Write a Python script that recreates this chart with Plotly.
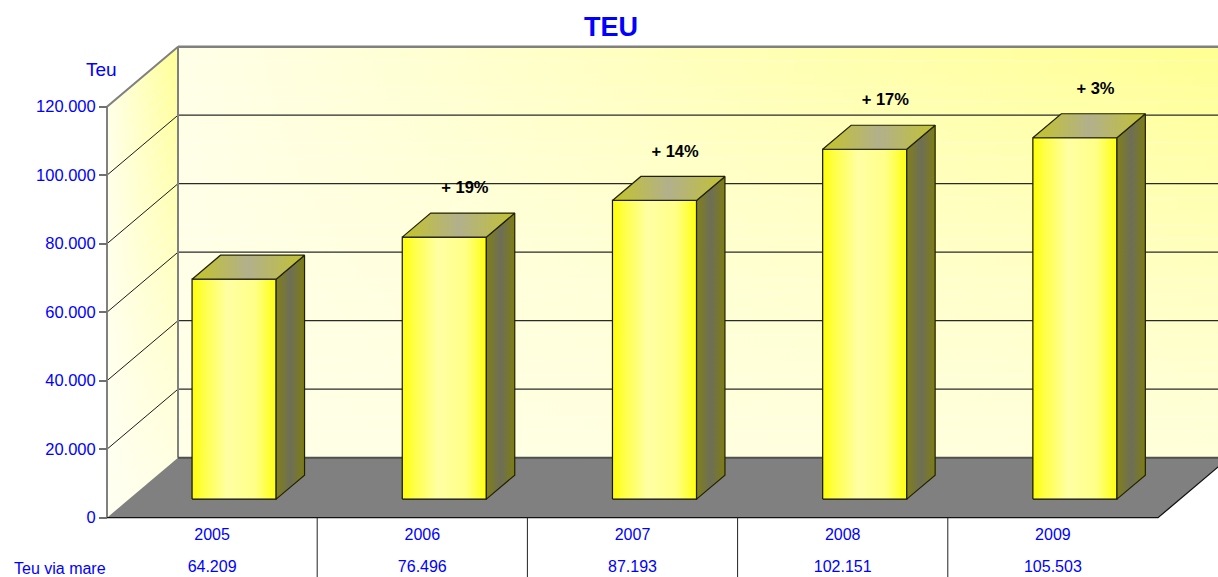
import plotly.graph_objects as go

# ---------------- data ----------------
years = ["2005", "2006", "2007", "2008", "2009"]
teu = [64209, 76496, 87193, 102151, 105503]
value_labels = ["64.209", "76.496", "87.193", "102.151", "105.503"]
growth_labels = ["", "+ 19%", "+ 14%", "+ 17%", "+ 3%"]
y_tickvals = [0, 20000, 40000, 60000, 80000, 100000, 120000]
y_ticktext = ["0", "20.000", "40.000", "60.000", "80.000", "100.000", "120.000"]
row_label = "Teu via mare"
y_title = "Teu"
chart_title = "TEU"

# ---------------- geometry (projection of the pseudo-3D chart) ----------------
W, H = 1218, 577
X0_PX = 107.0          # pixel of the front-left corner
CAT_PX = 210.2         # pixels per category
Y0_PX = 517.7          # pixel of value 0 on the front plane
UNIT_PX = 68.5 / 20000 # pixels per unit value
DXu = 71.0 / CAT_PX    # depth offset in x (category units)
DYu = 60.0 / UNIT_PX   # depth offset in y (value units)
D0, D1 = 0.31, 0.71    # bar depth span (fraction of floor depth)
BAR_W = 0.4
NCAT = len(years)
YMAX = y_tickvals[-1]

FONT = "Liberation Sans, Arial, sans-serif"
BLUE = "#0000FF"

traces = []


def poly(xs, ys, color=None, grad=None, line_color="rgba(0,0,0,0)", lw=0):
    t = dict(x=list(xs) + [xs[0]], y=list(ys) + [ys[0]], mode="lines", fill="toself",
             line=dict(color=line_color, width=lw), hoverinfo="skip", showlegend=False)
    if grad is not None:
        t["fillgradient"] = grad
    else:
        t["fillcolor"] = color
    return go.Scatter(**t)


def seg(xs, ys, color, lw):
    return go.Scatter(x=xs, y=ys, mode="lines", line=dict(color=color, width=lw),
                      hoverinfo="skip", showlegend=False, cliponaxis=False)


def hexc(b):
    b = max(0, min(255, int(round(b))))
    return "#FFFF%02X" % b


# ---------------- back wall (banded 2D gradient) ----------------
NB = 30
xl, xr = DXu, NCAT + DXu + 0.3
for k in range(NB):
    a = YMAX * k / NB
    b = YMAX * (k + 1) / NB
    v = (k + 0.5) / NB
    cl = hexc(232)
    cr = hexc(232 - 16 - 76 * v ** 1.3)
    traces.append(poly([xl, xr, xr, xl], [a + DYu, a + DYu, b + DYu, b + DYu],
                       grad=dict(type="horizontal",
                                 colorscale=[[0, cl], [0.5, hexc(232 - 8 - 42 * v ** 1.3)], [1, cr]])))

# ---------------- left wall ----------------
for k in range(NB):
    a = YMAX * k / NB
    b = YMAX * (k + 1) / NB
    v = (k + 0.5) / NB
    traces.append(poly([0, DXu, DXu, 0], [a, a + DYu, b + DYu, b],
                       grad=dict(type="horizontal",
                                 colorscale=[[0, hexc(242 - 8 * v)], [1, hexc(224 - 76 * v ** 1.2)]])))

# ---------------- gridlines ----------------
for t in y_tickvals[1:-1]:
    traces.append(seg([DXu, xr], [t + DYu, t + DYu], "#2a2a2a", 1.3))
    traces.append(seg([0, DXu], [t, t + DYu], "#1a1a1a", 1))

# wall borders
traces.append(seg([0, 0, DXu, DXu], [0, YMAX, YMAX + DYu, DYu], "#808080", 2))
traces.append(seg([DXu, xr], [YMAX + DYu, YMAX + DYu], "#808080", 2.5))

# ---------------- floor ----------------
traces.append(poly([0, NCAT, NCAT + DXu, DXu], [0, 0, DYu, DYu], color="#808080"))
traces.append(seg([DXu, NCAT + DXu], [DYu, DYu], "#505050", 2))
traces.append(seg([0, NCAT, NCAT + DXu], [0, 0, DYu], "#111111", 1.3))

# ---------------- table lines ----------------
y_bottom = (Y0_PX - H) / UNIT_PX
for i in range(1, NCAT):
    traces.append(seg([i, i], [0, y_bottom], "#222222", 1))

# ---------------- bars ----------------
front_grad = dict(type="horizontal",
                  colorscale=[[0, "#FFFF00"], [0.12, "#FFFF40"], [0.42, "#FFFFA4"],
                              [0.75, "#FFFF88"], [0.93, "#FFFF30"], [1, "#FFFF10"]])
side_grad = dict(type="horizontal",
                 colorscale=[[0, "#80801A"], [0.5, "#6E6E58"], [1, "#7E7E12"]])
top_grad = dict(type="horizontal",
                colorscale=[[0, "#C4C428"], [0.5, "#B2B08C"], [1, "#C2C232"]])

for i, v in enumerate(teu):
    xf0 = i + 0.5 - BAR_W / 2 + D0 * DXu
    xf1 = xf0 + BAR_W
    yf0 = D0 * DYu
    yf1 = v + D0 * DYu
    ddx = (D1 - D0) * DXu
    ddy = (D1 - D0) * DYu
    traces.append(poly([xf0, xf1, xf1, xf0], [yf0, yf0, yf1, yf1], grad=front_grad,
                       line_color="#111111", lw=1.2))
    traces.append(poly([xf1, xf1 + ddx, xf1 + ddx, xf1], [yf0, yf0 + ddy, yf1 + ddy, yf1],
                       grad=side_grad, line_color="#222200", lw=1.2))
    traces.append(poly([xf0, xf1, xf1 + ddx, xf0 + ddx], [yf1, yf1, yf1 + ddy, yf1 + ddy],
                       grad=top_grad, line_color="#222200", lw=1.2))

# ---------------- growth labels ----------------
LABEL_GAP_PX = 24
traces.append(go.Scatter(
    x=[i + 0.5 + 0.6 * DXu for i in range(NCAT)],
    y=[v + D1 * DYu + LABEL_GAP_PX / UNIT_PX for v in teu],
    text=growth_labels, mode="text", textposition="middle center",
    textfont=dict(family=FONT, size=16.5, color="#000000", weight="bold"),
    hoverinfo="skip", showlegend=False, cliponaxis=False))

# ---------------- table values row ----------------
ROW_PX = 568
traces.append(go.Scatter(
    x=[i + 0.5 for i in range(NCAT)],
    y=[(Y0_PX - ROW_PX) / UNIT_PX] * NCAT,
    text=value_labels, mode="text", textposition="middle center",
    textfont=dict(family=FONT, size=16, color=BLUE),
    hoverinfo="skip", showlegend=False, cliponaxis=False))

fig = go.Figure(traces)

fig.update_layout(
    width=W, height=H,
    margin=dict(l=0, r=0, t=0, b=0),
    paper_bgcolor="white", plot_bgcolor="white",
    font=dict(family=FONT, color=BLUE),
    title=dict(text="<b>" + chart_title + "</b>", x=611 / W, xanchor="center",
               y=1 - 27 / H, yanchor="middle", yref="container",
               font=dict(family=FONT, size=27, color=BLUE)),
    xaxis=dict(range=[-X0_PX / CAT_PX, (W - X0_PX) / CAT_PX], anchor="free",
               position=(H - Y0_PX) / H, showgrid=False, zeroline=False, showline=False,
               tickmode="array", tickvals=[i + 0.5 for i in range(NCAT)], ticktext=years,
               ticks="", tickfont=dict(family=FONT, size=16, color=BLUE),
               ticklabelstandoff=5, fixedrange=True),
    yaxis=dict(range=[(Y0_PX - H) / UNIT_PX, Y0_PX / UNIT_PX], anchor="free",
               position=X0_PX / W, showgrid=False, zeroline=False, showline=False,
               tickmode="array", tickvals=y_tickvals, ticktext=y_ticktext,
               ticks="outside", ticklen=8, tickcolor="#707070", tickwidth=1.5,
               tickfont=dict(family=FONT, size=16.5, color=BLUE), fixedrange=True),
    annotations=[
        dict(text=y_title, x=101 / W, y=1 - 70 / H, xref="paper", yref="paper",
             showarrow=False, xanchor="center", yanchor="middle",
             font=dict(family=FONT, size=19, color=BLUE)),
        dict(text=row_label, x=12 / W, y=1 - ROW_PX / H, xref="paper", yref="paper",
             showarrow=False, xanchor="left", yanchor="middle",
             font=dict(family=FONT, size=16, color=BLUE)),
    ],
)

fig.write_html("out.html", config={"displayModeBar": False},
               post_script="document.body.style.margin='0px';document.body.style.overflow='hidden';")
